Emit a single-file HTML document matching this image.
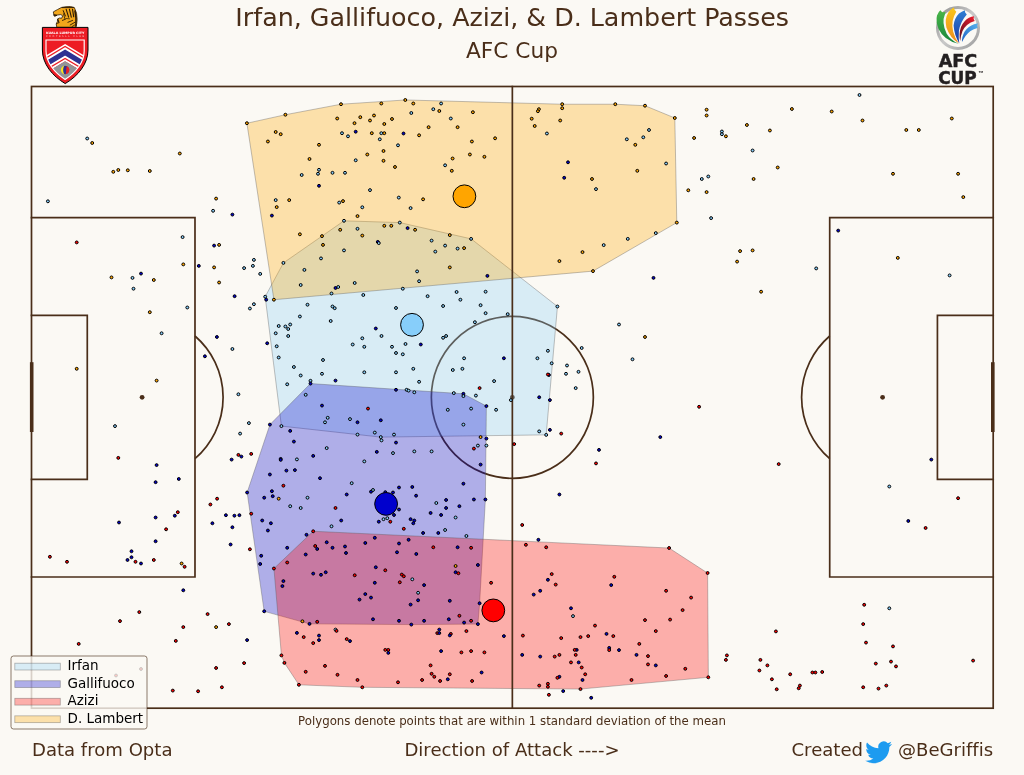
<!DOCTYPE html>
<html lang="en"><head><meta charset="utf-8"><title>Irfan, Gallifuoco, Azizi, &amp; D. Lambert Passes</title>
<style>
html,body{margin:0;padding:0;background:#fbf9f4;}
body{width:1024px;height:775px;overflow:hidden;font-family:"DejaVu Sans","Liberation Sans",sans-serif;}
svg{display:block}
text{font-variant-ligatures:none;font-family:"DejaVu Sans","Liberation Sans",sans-serif;}
.t{fill:#4A2E19}
.d circle{stroke:#000;stroke-width:1}
</style></head><body>
<svg width="1024" height="775" viewBox="0 0 1024 775">
<rect width="1024" height="775" fill="#fbf9f4"/>

<g fill="none" stroke="#4A2E19" stroke-width="1.7">
<circle cx="512.35" cy="397.35" r="81.0"/>
<circle cx="512.35" cy="397.35" r="1.6" fill="#4A2E19"/>
<path d="M194.99 336.00 A81.0 81.0 0 0 1 194.99 458.70"/>
<path d="M829.71 336.00 A81.0 81.0 0 0 0 829.71 458.70"/>
</g>
<g stroke-width="0.8" stroke-linejoin="round">
<polygon points="343.99,220.84 399.79,222.59 471.11,238.85 557.45,306.48 546.18,434.86 380.77,437.11 281.43,426.10 265.16,296.72 283.43,262.88" fill="#87CEFA" fill-opacity="0.3" stroke="#555" stroke-opacity="0.45"/>
<polygon points="310.45,383.55 463.36,393.81 486.38,406.08 485.38,499.48 479.62,603.33 477.87,624.10 411.31,624.60 309.45,623.85 264.16,611.34 247.15,492.47 269.91,424.60" fill="#0000CD" fill-opacity="0.3" stroke="#555" stroke-opacity="0.45"/>
<polygon points="313.21,531.26 669.06,548.02 707.60,573.05 708.35,677.30 580.47,689.06 362.26,687.31 298.94,684.80 284.43,662.89 281.43,655.38 273.92,568.55" fill="#FF0000" fill-opacity="0.3" stroke="#555" stroke-opacity="0.45"/>
<polygon points="246.90,123.24 285.43,114.73 340.98,104.22 405.30,99.96 562.20,104.22 615.25,104.22 645.03,105.72 674.81,117.98 676.81,222.59 592.98,271.14 273.92,299.72" fill="#FFA500" fill-opacity="0.3" stroke="#555" stroke-opacity="0.45"/>
</g>
<g fill="none" stroke="#4A2E19" stroke-width="1.7" stroke-linecap="square">
<rect x="31.5" y="86.5" width="961.70" height="621.70"/>
<line x1="512.35" y1="86.5" x2="512.35" y2="708.2"/>
<path d="M31.5 217.68 H194.99 V577.02 H31.5"/>
<path d="M993.2 217.68 H829.71 V577.02 H993.2"/>
<path d="M31.5 315.29 H87.28 V479.41 H31.5"/>
<path d="M993.2 315.29 H937.42 V479.41 H993.2"/>
</g>
<g stroke="#4A2E19" stroke-width="3.6"><line x1="31.7" y1="362.2" x2="31.7" y2="432"/><line x1="992.8000000000001" y1="362.2" x2="992.8000000000001" y2="432"/></g>
<g fill="#4A2E19"><circle cx="142.10" cy="397.35" r="2.4"/><circle cx="882.60" cy="397.35" r="2.4"/></g>
<g class="d">
<circle cx="87.2" cy="138.5" r="1.45" fill="#87CEFA"/>
<circle cx="92.2" cy="143.0" r="1.45" fill="#FFA500"/>
<circle cx="179.8" cy="153.5" r="1.45" fill="#FFA500"/>
<circle cx="113.3" cy="171.8" r="1.45" fill="#FFA500"/>
<circle cx="118.3" cy="170.0" r="1.45" fill="#FFA500"/>
<circle cx="127.8" cy="170.3" r="1.45" fill="#FFA500"/>
<circle cx="149.8" cy="171.0" r="1.45" fill="#FFA500"/>
<circle cx="47.9" cy="201.3" r="1.45" fill="#87CEFA"/>
<circle cx="246.9" cy="123.2" r="1.45" fill="#FFA500"/>
<circle cx="216.1" cy="198.6" r="1.45" fill="#FFA500"/>
<circle cx="213.1" cy="210.8" r="1.45" fill="#87CEFA"/>
<circle cx="232.4" cy="214.6" r="1.45" fill="#0000CD"/>
<circle cx="76.7" cy="242.4" r="1.45" fill="#FF0000"/>
<circle cx="182.6" cy="237.1" r="1.45" fill="#87CEFA"/>
<circle cx="214.1" cy="245.6" r="1.45" fill="#0000CD"/>
<circle cx="219.1" cy="244.9" r="1.45" fill="#FFA500"/>
<circle cx="183.3" cy="264.4" r="1.45" fill="#FFA500"/>
<circle cx="198.8" cy="265.9" r="1.45" fill="#0000CD"/>
<circle cx="214.1" cy="267.4" r="1.45" fill="#FFA500"/>
<circle cx="244.1" cy="268.1" r="1.45" fill="#87CEFA"/>
<circle cx="252.9" cy="265.9" r="1.45" fill="#87CEFA"/>
<circle cx="253.9" cy="259.9" r="1.45" fill="#87CEFA"/>
<circle cx="141.0" cy="273.6" r="1.45" fill="#0000CD"/>
<circle cx="111.5" cy="277.4" r="1.45" fill="#FFA500"/>
<circle cx="132.5" cy="277.9" r="1.45" fill="#87CEFA"/>
<circle cx="153.8" cy="280.0" r="1.45" fill="#FFA500"/>
<circle cx="133.5" cy="288.7" r="1.45" fill="#87CEFA"/>
<circle cx="219.1" cy="282.5" r="1.45" fill="#FFA500"/>
<circle cx="234.6" cy="296.2" r="1.45" fill="#0000CD"/>
<circle cx="253.9" cy="304.2" r="1.45" fill="#87CEFA"/>
<circle cx="249.9" cy="308.5" r="1.45" fill="#87CEFA"/>
<circle cx="187.3" cy="307.5" r="1.45" fill="#87CEFA"/>
<circle cx="149.8" cy="312.2" r="1.45" fill="#FFA500"/>
<circle cx="161.6" cy="333.3" r="1.45" fill="#87CEFA"/>
<circle cx="216.9" cy="337.0" r="1.45" fill="#0000CD"/>
<circle cx="232.4" cy="349.0" r="1.45" fill="#87CEFA"/>
<circle cx="204.9" cy="356.3" r="1.45" fill="#0000CD"/>
<circle cx="76.7" cy="368.8" r="1.45" fill="#FFA500"/>
<circle cx="156.6" cy="380.6" r="1.45" fill="#FFA500"/>
<circle cx="238.4" cy="394.3" r="1.45" fill="#87CEFA"/>
<circle cx="115.0" cy="426.1" r="1.45" fill="#87CEFA"/>
<circle cx="248.9" cy="423.1" r="1.45" fill="#87CEFA"/>
<circle cx="240.1" cy="433.6" r="1.45" fill="#87CEFA"/>
<circle cx="118.3" cy="457.9" r="1.45" fill="#FF0000"/>
<circle cx="156.6" cy="465.1" r="1.45" fill="#0000CD"/>
<circle cx="238.4" cy="454.9" r="1.45" fill="#FF0000"/>
<circle cx="241.4" cy="456.6" r="1.45" fill="#0000CD"/>
<circle cx="251.2" cy="453.9" r="1.45" fill="#FF0000"/>
<circle cx="231.6" cy="459.6" r="1.45" fill="#0000CD"/>
<circle cx="155.6" cy="482.2" r="1.45" fill="#0000CD"/>
<circle cx="178.8" cy="479.0" r="1.45" fill="#0000CD"/>
<circle cx="247.1" cy="492.5" r="1.45" fill="#0000CD"/>
<circle cx="217.1" cy="498.7" r="1.45" fill="#FF0000"/>
<circle cx="210.4" cy="504.5" r="1.45" fill="#FF0000"/>
<circle cx="177.8" cy="512.2" r="1.45" fill="#FF0000"/>
<circle cx="174.8" cy="515.7" r="1.45" fill="#0000CD"/>
<circle cx="155.6" cy="517.5" r="1.45" fill="#0000CD"/>
<circle cx="119.0" cy="522.5" r="1.45" fill="#0000CD"/>
<circle cx="225.9" cy="515.2" r="1.45" fill="#0000CD"/>
<circle cx="234.4" cy="515.7" r="1.45" fill="#0000CD"/>
<circle cx="239.4" cy="515.2" r="1.45" fill="#0000CD"/>
<circle cx="251.2" cy="513.7" r="1.45" fill="#FF0000"/>
<circle cx="212.4" cy="523.3" r="1.45" fill="#0000CD"/>
<circle cx="232.4" cy="527.3" r="1.45" fill="#0000CD"/>
<circle cx="166.1" cy="529.3" r="1.45" fill="#FF0000"/>
<circle cx="155.6" cy="541.3" r="1.45" fill="#0000CD"/>
<circle cx="230.6" cy="544.5" r="1.45" fill="#0000CD"/>
<circle cx="249.9" cy="549.3" r="1.45" fill="#FF0000"/>
<circle cx="131.5" cy="551.3" r="1.45" fill="#0000CD"/>
<circle cx="131.5" cy="557.3" r="1.45" fill="#0000CD"/>
<circle cx="127.5" cy="560.0" r="1.45" fill="#0000CD"/>
<circle cx="135.5" cy="561.8" r="1.45" fill="#FF0000"/>
<circle cx="141.0" cy="563.5" r="1.45" fill="#0000CD"/>
<circle cx="153.8" cy="560.0" r="1.45" fill="#FF0000"/>
<circle cx="181.6" cy="563.5" r="1.45" fill="#FFA500"/>
<circle cx="184.6" cy="566.8" r="1.45" fill="#FF0000"/>
<circle cx="49.9" cy="556.8" r="1.45" fill="#FF0000"/>
<circle cx="67.0" cy="561.8" r="1.45" fill="#FF0000"/>
<circle cx="183.3" cy="590.3" r="1.45" fill="#0000CD"/>
<circle cx="139.3" cy="612.1" r="1.45" fill="#FF0000"/>
<circle cx="120.0" cy="621.1" r="1.45" fill="#FF0000"/>
<circle cx="207.6" cy="614.1" r="1.45" fill="#FF0000"/>
<circle cx="183.3" cy="627.1" r="1.45" fill="#FF0000"/>
<circle cx="216.1" cy="627.1" r="1.45" fill="#FFA500"/>
<circle cx="228.9" cy="624.1" r="1.45" fill="#FF0000"/>
<circle cx="175.8" cy="640.9" r="1.45" fill="#FF0000"/>
<circle cx="247.1" cy="640.1" r="1.45" fill="#0000CD"/>
<circle cx="78.7" cy="643.9" r="1.45" fill="#FF0000"/>
<circle cx="244.1" cy="663.1" r="1.45" fill="#FF0000"/>
<circle cx="216.1" cy="668.0" r="1.45" fill="#FF0000"/>
<circle cx="172.8" cy="690.6" r="1.45" fill="#FF0000"/>
<circle cx="198.1" cy="691.3" r="1.45" fill="#FF0000"/>
<circle cx="221.9" cy="687.3" r="1.45" fill="#FF0000"/>
<circle cx="141.0" cy="669.0" r="1.45" fill="#FF0000"/>
<circle cx="116.0" cy="675.5" r="1.45" fill="#FF0000"/>
<circle cx="285.4" cy="114.7" r="1.45" fill="#FFA500"/>
<circle cx="341.0" cy="104.2" r="1.45" fill="#FFA500"/>
<circle cx="381.3" cy="103.5" r="1.45" fill="#FFA500"/>
<circle cx="405.3" cy="100.0" r="1.45" fill="#FFA500"/>
<circle cx="413.3" cy="103.5" r="1.45" fill="#FFA500"/>
<circle cx="441.1" cy="103.5" r="1.45" fill="#87CEFA"/>
<circle cx="433.3" cy="109.2" r="1.45" fill="#87CEFA"/>
<circle cx="439.3" cy="111.0" r="1.45" fill="#FFA500"/>
<circle cx="411.3" cy="113.0" r="1.45" fill="#87CEFA"/>
<circle cx="472.9" cy="112.2" r="1.45" fill="#FFA500"/>
<circle cx="337.2" cy="118.5" r="1.45" fill="#FFA500"/>
<circle cx="360.3" cy="117.2" r="1.45" fill="#FFA500"/>
<circle cx="374.0" cy="115.5" r="1.45" fill="#FFA500"/>
<circle cx="370.0" cy="120.5" r="1.45" fill="#FFA500"/>
<circle cx="354.5" cy="123.2" r="1.45" fill="#FFA500"/>
<circle cx="392.0" cy="119.0" r="1.45" fill="#FFA500"/>
<circle cx="384.3" cy="124.0" r="1.45" fill="#FFA500"/>
<circle cx="450.8" cy="118.5" r="1.45" fill="#87CEFA"/>
<circle cx="428.6" cy="127.2" r="1.45" fill="#FFA500"/>
<circle cx="457.6" cy="127.2" r="1.45" fill="#FFA500"/>
<circle cx="275.7" cy="132.0" r="1.45" fill="#FFA500"/>
<circle cx="280.7" cy="134.2" r="1.45" fill="#FFA500"/>
<circle cx="267.9" cy="141.5" r="1.45" fill="#FFA500"/>
<circle cx="342.0" cy="133.2" r="1.45" fill="#87CEFA"/>
<circle cx="348.0" cy="136.3" r="1.45" fill="#87CEFA"/>
<circle cx="355.7" cy="131.7" r="1.45" fill="#0000CD"/>
<circle cx="371.8" cy="133.2" r="1.45" fill="#FFA500"/>
<circle cx="381.3" cy="133.2" r="1.45" fill="#87CEFA"/>
<circle cx="384.3" cy="133.2" r="1.45" fill="#FFA500"/>
<circle cx="403.5" cy="133.5" r="1.45" fill="#0000CD"/>
<circle cx="419.1" cy="135.3" r="1.45" fill="#FFA500"/>
<circle cx="379.8" cy="139.3" r="1.45" fill="#87CEFA"/>
<circle cx="495.1" cy="138.3" r="1.45" fill="#FFA500"/>
<circle cx="471.9" cy="141.5" r="1.45" fill="#FFA500"/>
<circle cx="319.0" cy="144.8" r="1.45" fill="#FFA500"/>
<circle cx="398.0" cy="145.3" r="1.45" fill="#87CEFA"/>
<circle cx="383.5" cy="151.0" r="1.45" fill="#FFA500"/>
<circle cx="367.3" cy="154.5" r="1.45" fill="#FFA500"/>
<circle cx="469.9" cy="154.5" r="1.45" fill="#FFA500"/>
<circle cx="484.4" cy="156.8" r="1.45" fill="#FFA500"/>
<circle cx="452.6" cy="158.5" r="1.45" fill="#FFA500"/>
<circle cx="309.5" cy="159.0" r="1.45" fill="#FFA500"/>
<circle cx="355.7" cy="160.3" r="1.45" fill="#87CEFA"/>
<circle cx="383.5" cy="160.8" r="1.45" fill="#FFA500"/>
<circle cx="395.0" cy="167.0" r="1.45" fill="#FFA500"/>
<circle cx="445.1" cy="165.3" r="1.45" fill="#87CEFA"/>
<circle cx="451.8" cy="170.8" r="1.45" fill="#FFA500"/>
<circle cx="319.0" cy="169.8" r="1.45" fill="#87CEFA"/>
<circle cx="318.0" cy="173.8" r="1.45" fill="#87CEFA"/>
<circle cx="301.7" cy="175.0" r="1.45" fill="#87CEFA"/>
<circle cx="332.5" cy="172.8" r="1.45" fill="#87CEFA"/>
<circle cx="345.0" cy="172.8" r="1.45" fill="#87CEFA"/>
<circle cx="319.0" cy="185.8" r="1.45" fill="#0000CD"/>
<circle cx="370.0" cy="190.1" r="1.45" fill="#87CEFA"/>
<circle cx="398.8" cy="197.6" r="1.45" fill="#87CEFA"/>
<circle cx="423.1" cy="199.3" r="1.45" fill="#FFA500"/>
<circle cx="275.7" cy="200.1" r="1.45" fill="#87CEFA"/>
<circle cx="289.2" cy="200.1" r="1.45" fill="#FFA500"/>
<circle cx="276.7" cy="207.1" r="1.45" fill="#FFA500"/>
<circle cx="339.2" cy="202.6" r="1.45" fill="#87CEFA"/>
<circle cx="343.0" cy="201.1" r="1.45" fill="#FFA500"/>
<circle cx="362.3" cy="207.3" r="1.45" fill="#87CEFA"/>
<circle cx="410.6" cy="208.1" r="1.45" fill="#87CEFA"/>
<circle cx="271.9" cy="215.6" r="1.45" fill="#0000CD"/>
<circle cx="357.5" cy="216.1" r="1.45" fill="#FFA500"/>
<circle cx="344.0" cy="220.8" r="1.45" fill="#87CEFA"/>
<circle cx="399.8" cy="222.6" r="1.45" fill="#87CEFA"/>
<circle cx="384.3" cy="225.8" r="1.45" fill="#FFA500"/>
<circle cx="391.3" cy="225.8" r="1.45" fill="#FFA500"/>
<circle cx="407.6" cy="228.1" r="1.45" fill="#0000CD"/>
<circle cx="415.1" cy="229.8" r="1.45" fill="#FFA500"/>
<circle cx="340.2" cy="229.8" r="1.45" fill="#FFA500"/>
<circle cx="357.5" cy="228.8" r="1.45" fill="#87CEFA"/>
<circle cx="362.3" cy="235.6" r="1.45" fill="#FFA500"/>
<circle cx="299.9" cy="234.3" r="1.45" fill="#FFA500"/>
<circle cx="322.0" cy="236.1" r="1.45" fill="#FFA500"/>
<circle cx="449.8" cy="235.1" r="1.45" fill="#FFA500"/>
<circle cx="471.1" cy="238.9" r="1.45" fill="#87CEFA"/>
<circle cx="377.8" cy="241.9" r="1.45" fill="#0000CD"/>
<circle cx="378.8" cy="243.1" r="1.45" fill="#87CEFA"/>
<circle cx="431.6" cy="240.6" r="1.45" fill="#87CEFA"/>
<circle cx="323.0" cy="244.9" r="1.45" fill="#FFA500"/>
<circle cx="445.1" cy="245.6" r="1.45" fill="#87CEFA"/>
<circle cx="457.6" cy="248.6" r="1.45" fill="#87CEFA"/>
<circle cx="464.1" cy="248.1" r="1.45" fill="#FFA500"/>
<circle cx="344.0" cy="250.4" r="1.45" fill="#87CEFA"/>
<circle cx="435.3" cy="251.6" r="1.45" fill="#87CEFA"/>
<circle cx="321.0" cy="258.4" r="1.45" fill="#87CEFA"/>
<circle cx="283.4" cy="262.9" r="1.45" fill="#87CEFA"/>
<circle cx="304.4" cy="269.9" r="1.45" fill="#87CEFA"/>
<circle cx="449.8" cy="267.4" r="1.45" fill="#FFA500"/>
<circle cx="417.1" cy="271.4" r="1.45" fill="#87CEFA"/>
<circle cx="260.2" cy="273.9" r="1.45" fill="#87CEFA"/>
<circle cx="487.4" cy="275.9" r="1.45" fill="#0000CD"/>
<circle cx="300.7" cy="285.0" r="1.45" fill="#87CEFA"/>
<circle cx="335.5" cy="288.0" r="1.45" fill="#0000CD"/>
<circle cx="338.2" cy="287.0" r="1.45" fill="#87CEFA"/>
<circle cx="354.7" cy="283.0" r="1.45" fill="#87CEFA"/>
<circle cx="419.1" cy="281.2" r="1.45" fill="#87CEFA"/>
<circle cx="402.8" cy="288.7" r="1.45" fill="#87CEFA"/>
<circle cx="331.5" cy="293.5" r="1.45" fill="#87CEFA"/>
<circle cx="363.3" cy="295.0" r="1.45" fill="#87CEFA"/>
<circle cx="265.2" cy="296.7" r="1.45" fill="#87CEFA"/>
<circle cx="266.2" cy="299.7" r="1.45" fill="#0000CD"/>
<circle cx="273.9" cy="299.7" r="1.45" fill="#FFA500"/>
<circle cx="427.6" cy="296.2" r="1.45" fill="#87CEFA"/>
<circle cx="456.6" cy="292.0" r="1.45" fill="#87CEFA"/>
<circle cx="485.6" cy="291.7" r="1.45" fill="#87CEFA"/>
<circle cx="460.4" cy="299.7" r="1.45" fill="#87CEFA"/>
<circle cx="307.5" cy="304.7" r="1.45" fill="#87CEFA"/>
<circle cx="332.5" cy="306.5" r="1.45" fill="#87CEFA"/>
<circle cx="334.7" cy="308.2" r="1.45" fill="#87CEFA"/>
<circle cx="396.0" cy="308.0" r="1.45" fill="#87CEFA"/>
<circle cx="443.1" cy="306.0" r="1.45" fill="#87CEFA"/>
<circle cx="480.6" cy="305.2" r="1.45" fill="#87CEFA"/>
<circle cx="485.6" cy="313.2" r="1.45" fill="#87CEFA"/>
<circle cx="507.7" cy="314.2" r="1.45" fill="#87CEFA"/>
<circle cx="299.9" cy="316.5" r="1.45" fill="#87CEFA"/>
<circle cx="330.7" cy="321.0" r="1.45" fill="#87CEFA"/>
<circle cx="474.9" cy="322.2" r="1.45" fill="#87CEFA"/>
<circle cx="278.7" cy="326.0" r="1.45" fill="#87CEFA"/>
<circle cx="285.4" cy="326.5" r="1.45" fill="#87CEFA"/>
<circle cx="290.2" cy="324.5" r="1.45" fill="#87CEFA"/>
<circle cx="288.2" cy="329.0" r="1.45" fill="#87CEFA"/>
<circle cx="275.7" cy="333.3" r="1.45" fill="#87CEFA"/>
<circle cx="288.2" cy="336.0" r="1.45" fill="#87CEFA"/>
<circle cx="375.8" cy="328.5" r="1.45" fill="#0000CD"/>
<circle cx="381.5" cy="336.0" r="1.45" fill="#87CEFA"/>
<circle cx="362.3" cy="338.3" r="1.45" fill="#87CEFA"/>
<circle cx="443.1" cy="337.8" r="1.45" fill="#87CEFA"/>
<circle cx="446.1" cy="336.0" r="1.45" fill="#87CEFA"/>
<circle cx="267.2" cy="343.3" r="1.45" fill="#0000CD"/>
<circle cx="276.7" cy="346.3" r="1.45" fill="#87CEFA"/>
<circle cx="352.7" cy="344.5" r="1.45" fill="#87CEFA"/>
<circle cx="364.3" cy="346.8" r="1.45" fill="#87CEFA"/>
<circle cx="392.0" cy="346.8" r="1.45" fill="#87CEFA"/>
<circle cx="405.5" cy="344.0" r="1.45" fill="#87CEFA"/>
<circle cx="420.8" cy="344.5" r="1.45" fill="#0000CD"/>
<circle cx="396.0" cy="353.0" r="1.45" fill="#87CEFA"/>
<circle cx="402.8" cy="354.3" r="1.45" fill="#87CEFA"/>
<circle cx="278.7" cy="357.5" r="1.45" fill="#87CEFA"/>
<circle cx="323.0" cy="360.0" r="1.45" fill="#87CEFA"/>
<circle cx="464.1" cy="358.3" r="1.45" fill="#87CEFA"/>
<circle cx="503.9" cy="358.3" r="1.45" fill="#0000CD"/>
<circle cx="293.9" cy="367.0" r="1.45" fill="#87CEFA"/>
<circle cx="413.3" cy="368.8" r="1.45" fill="#87CEFA"/>
<circle cx="452.8" cy="370.0" r="1.45" fill="#87CEFA"/>
<circle cx="462.4" cy="368.8" r="1.45" fill="#87CEFA"/>
<circle cx="300.7" cy="375.5" r="1.45" fill="#87CEFA"/>
<circle cx="322.0" cy="373.8" r="1.45" fill="#87CEFA"/>
<circle cx="364.3" cy="372.3" r="1.45" fill="#87CEFA"/>
<circle cx="396.0" cy="372.3" r="1.45" fill="#87CEFA"/>
<circle cx="287.2" cy="384.3" r="1.45" fill="#87CEFA"/>
<circle cx="310.5" cy="380.8" r="1.45" fill="#87CEFA"/>
<circle cx="310.5" cy="383.6" r="1.45" fill="#0000CD"/>
<circle cx="335.5" cy="380.6" r="1.45" fill="#0000CD"/>
<circle cx="419.1" cy="381.8" r="1.45" fill="#87CEFA"/>
<circle cx="494.1" cy="381.1" r="1.45" fill="#87CEFA"/>
<circle cx="479.6" cy="388.1" r="1.45" fill="#FF0000"/>
<circle cx="396.0" cy="389.8" r="1.45" fill="#0000CD"/>
<circle cx="406.6" cy="389.8" r="1.45" fill="#87CEFA"/>
<circle cx="408.6" cy="390.6" r="1.45" fill="#87CEFA"/>
<circle cx="414.3" cy="392.3" r="1.45" fill="#87CEFA"/>
<circle cx="453.8" cy="393.1" r="1.45" fill="#87CEFA"/>
<circle cx="463.4" cy="393.8" r="1.45" fill="#0000CD"/>
<circle cx="463.4" cy="396.1" r="1.45" fill="#87CEFA"/>
<circle cx="475.9" cy="395.6" r="1.45" fill="#87CEFA"/>
<circle cx="305.7" cy="394.8" r="1.45" fill="#87CEFA"/>
<circle cx="510.9" cy="400.1" r="1.45" fill="#87CEFA"/>
<circle cx="322.0" cy="405.6" r="1.45" fill="#0000CD"/>
<circle cx="368.0" cy="408.6" r="1.45" fill="#FF0000"/>
<circle cx="447.8" cy="409.8" r="1.45" fill="#87CEFA"/>
<circle cx="471.1" cy="408.6" r="1.45" fill="#87CEFA"/>
<circle cx="486.4" cy="406.1" r="1.45" fill="#0000CD"/>
<circle cx="496.1" cy="409.8" r="1.45" fill="#87CEFA"/>
<circle cx="327.7" cy="417.8" r="1.45" fill="#87CEFA"/>
<circle cx="325.0" cy="422.3" r="1.45" fill="#87CEFA"/>
<circle cx="350.0" cy="419.1" r="1.45" fill="#87CEFA"/>
<circle cx="357.5" cy="422.3" r="1.45" fill="#0000CD"/>
<circle cx="380.8" cy="420.3" r="1.45" fill="#0000CD"/>
<circle cx="463.4" cy="424.6" r="1.45" fill="#87CEFA"/>
<circle cx="269.9" cy="424.6" r="1.45" fill="#0000CD"/>
<circle cx="281.4" cy="426.1" r="1.45" fill="#87CEFA"/>
<circle cx="290.2" cy="430.9" r="1.45" fill="#0000CD"/>
<circle cx="357.5" cy="434.6" r="1.45" fill="#87CEFA"/>
<circle cx="374.8" cy="432.6" r="1.45" fill="#87CEFA"/>
<circle cx="394.0" cy="434.6" r="1.45" fill="#87CEFA"/>
<circle cx="380.8" cy="437.1" r="1.45" fill="#87CEFA"/>
<circle cx="381.5" cy="440.4" r="1.45" fill="#87CEFA"/>
<circle cx="480.6" cy="437.1" r="1.45" fill="#FFA500"/>
<circle cx="486.4" cy="438.6" r="1.45" fill="#0000CD"/>
<circle cx="293.9" cy="441.6" r="1.45" fill="#0000CD"/>
<circle cx="396.0" cy="442.6" r="1.45" fill="#0000CD"/>
<circle cx="486.4" cy="445.6" r="1.45" fill="#87CEFA"/>
<circle cx="477.9" cy="445.6" r="1.45" fill="#87CEFA"/>
<circle cx="473.9" cy="448.6" r="1.45" fill="#FF0000"/>
<circle cx="326.7" cy="448.1" r="1.45" fill="#87CEFA"/>
<circle cx="376.8" cy="451.9" r="1.45" fill="#0000CD"/>
<circle cx="393.0" cy="453.1" r="1.45" fill="#87CEFA"/>
<circle cx="414.3" cy="451.4" r="1.45" fill="#87CEFA"/>
<circle cx="431.6" cy="451.4" r="1.45" fill="#87CEFA"/>
<circle cx="313.2" cy="455.9" r="1.45" fill="#0000CD"/>
<circle cx="280.7" cy="458.9" r="1.45" fill="#0000CD"/>
<circle cx="280.7" cy="459.9" r="1.45" fill="#0000CD"/>
<circle cx="296.9" cy="459.4" r="1.45" fill="#87CEFA"/>
<circle cx="364.3" cy="461.4" r="1.45" fill="#87CEFA"/>
<circle cx="480.6" cy="464.6" r="1.45" fill="#0000CD"/>
<circle cx="286.4" cy="470.6" r="1.45" fill="#0000CD"/>
<circle cx="294.9" cy="470.1" r="1.45" fill="#0000CD"/>
<circle cx="269.9" cy="474.5" r="1.45" fill="#0000CD"/>
<circle cx="320.0" cy="478.2" r="1.45" fill="#0000CD"/>
<circle cx="283.4" cy="485.7" r="1.45" fill="#FF0000"/>
<circle cx="351.7" cy="483.2" r="1.45" fill="#87CEFA"/>
<circle cx="463.4" cy="483.7" r="1.45" fill="#0000CD"/>
<circle cx="271.9" cy="491.2" r="1.45" fill="#0000CD"/>
<circle cx="272.7" cy="496.2" r="1.45" fill="#0000CD"/>
<circle cx="264.2" cy="497.7" r="1.45" fill="#0000CD"/>
<circle cx="278.7" cy="498.7" r="1.45" fill="#FFA500"/>
<circle cx="307.5" cy="497.7" r="1.45" fill="#87CEFA"/>
<circle cx="346.7" cy="494.5" r="1.45" fill="#0000CD"/>
<circle cx="371.0" cy="491.7" r="1.45" fill="#0000CD"/>
<circle cx="373.0" cy="490.0" r="1.45" fill="#87CEFA"/>
<circle cx="385.3" cy="492.2" r="1.45" fill="#0000CD"/>
<circle cx="393.0" cy="492.5" r="1.45" fill="#0000CD"/>
<circle cx="399.0" cy="487.5" r="1.45" fill="#0000CD"/>
<circle cx="412.3" cy="487.0" r="1.45" fill="#0000CD"/>
<circle cx="416.1" cy="495.7" r="1.45" fill="#0000CD"/>
<circle cx="446.1" cy="500.0" r="1.45" fill="#0000CD"/>
<circle cx="473.9" cy="499.5" r="1.45" fill="#0000CD"/>
<circle cx="485.4" cy="499.5" r="1.45" fill="#0000CD"/>
<circle cx="436.3" cy="503.0" r="1.45" fill="#87CEFA"/>
<circle cx="290.2" cy="506.2" r="1.45" fill="#87CEFA"/>
<circle cx="300.7" cy="508.0" r="1.45" fill="#87CEFA"/>
<circle cx="335.5" cy="508.0" r="1.45" fill="#FF0000"/>
<circle cx="446.1" cy="508.0" r="1.45" fill="#0000CD"/>
<circle cx="459.4" cy="506.2" r="1.45" fill="#0000CD"/>
<circle cx="399.0" cy="509.5" r="1.45" fill="#0000CD"/>
<circle cx="430.6" cy="513.0" r="1.45" fill="#0000CD"/>
<circle cx="441.1" cy="515.0" r="1.45" fill="#0000CD"/>
<circle cx="394.0" cy="515.0" r="1.45" fill="#0000CD"/>
<circle cx="455.6" cy="517.5" r="1.45" fill="#87CEFA"/>
<circle cx="262.2" cy="520.5" r="1.45" fill="#0000CD"/>
<circle cx="270.9" cy="523.3" r="1.45" fill="#0000CD"/>
<circle cx="341.2" cy="520.5" r="1.45" fill="#0000CD"/>
<circle cx="378.8" cy="521.7" r="1.45" fill="#0000CD"/>
<circle cx="383.5" cy="519.2" r="1.45" fill="#87CEFA"/>
<circle cx="387.3" cy="518.2" r="1.45" fill="#87CEFA"/>
<circle cx="390.3" cy="521.7" r="1.45" fill="#FF0000"/>
<circle cx="410.6" cy="519.2" r="1.45" fill="#0000CD"/>
<circle cx="414.3" cy="520.5" r="1.45" fill="#0000CD"/>
<circle cx="413.3" cy="523.3" r="1.45" fill="#0000CD"/>
<circle cx="267.9" cy="530.5" r="1.45" fill="#0000CD"/>
<circle cx="331.5" cy="526.3" r="1.45" fill="#87CEFA"/>
<circle cx="403.8" cy="528.8" r="1.45" fill="#FF0000"/>
<circle cx="445.1" cy="530.0" r="1.45" fill="#87CEFA"/>
<circle cx="423.1" cy="533.0" r="1.45" fill="#0000CD"/>
<circle cx="438.3" cy="533.0" r="1.45" fill="#0000CD"/>
<circle cx="313.2" cy="531.3" r="1.45" fill="#FF0000"/>
<circle cx="306.5" cy="534.8" r="1.45" fill="#0000CD"/>
<circle cx="466.4" cy="536.0" r="1.45" fill="#87CEFA"/>
<circle cx="374.8" cy="537.8" r="1.45" fill="#0000CD"/>
<circle cx="408.6" cy="539.8" r="1.45" fill="#0000CD"/>
<circle cx="326.7" cy="542.3" r="1.45" fill="#0000CD"/>
<circle cx="365.3" cy="543.0" r="1.45" fill="#0000CD"/>
<circle cx="399.0" cy="543.5" r="1.45" fill="#0000CD"/>
<circle cx="287.2" cy="547.8" r="1.45" fill="#0000CD"/>
<circle cx="315.2" cy="546.0" r="1.45" fill="#FF0000"/>
<circle cx="317.2" cy="549.0" r="1.45" fill="#0000CD"/>
<circle cx="332.5" cy="547.8" r="1.45" fill="#0000CD"/>
<circle cx="345.0" cy="546.5" r="1.45" fill="#0000CD"/>
<circle cx="433.3" cy="547.3" r="1.45" fill="#FF0000"/>
<circle cx="457.6" cy="547.3" r="1.45" fill="#0000CD"/>
<circle cx="471.1" cy="547.8" r="1.45" fill="#FF0000"/>
<circle cx="346.0" cy="553.0" r="1.45" fill="#0000CD"/>
<circle cx="397.0" cy="552.3" r="1.45" fill="#0000CD"/>
<circle cx="416.3" cy="554.0" r="1.45" fill="#0000CD"/>
<circle cx="261.2" cy="555.8" r="1.45" fill="#0000CD"/>
<circle cx="305.7" cy="554.5" r="1.45" fill="#0000CD"/>
<circle cx="260.2" cy="564.0" r="1.45" fill="#0000CD"/>
<circle cx="287.2" cy="562.5" r="1.45" fill="#FF0000"/>
<circle cx="273.9" cy="568.5" r="1.45" fill="#FF0000"/>
<circle cx="477.9" cy="565.0" r="1.45" fill="#0000CD"/>
<circle cx="455.6" cy="566.0" r="1.45" fill="#FFA500"/>
<circle cx="375.8" cy="567.3" r="1.45" fill="#0000CD"/>
<circle cx="385.3" cy="570.3" r="1.45" fill="#FF0000"/>
<circle cx="313.2" cy="573.6" r="1.45" fill="#0000CD"/>
<circle cx="321.0" cy="574.8" r="1.45" fill="#0000CD"/>
<circle cx="325.7" cy="572.3" r="1.45" fill="#0000CD"/>
<circle cx="354.7" cy="575.3" r="1.45" fill="#FF0000"/>
<circle cx="401.8" cy="574.6" r="1.45" fill="#FF0000"/>
<circle cx="403.8" cy="576.3" r="1.45" fill="#FF0000"/>
<circle cx="455.6" cy="572.3" r="1.45" fill="#0000CD"/>
<circle cx="458.4" cy="573.3" r="1.45" fill="#FF0000"/>
<circle cx="283.4" cy="581.1" r="1.45" fill="#0000CD"/>
<circle cx="282.4" cy="586.1" r="1.45" fill="#0000CD"/>
<circle cx="374.8" cy="582.8" r="1.45" fill="#0000CD"/>
<circle cx="399.8" cy="582.3" r="1.45" fill="#FF0000"/>
<circle cx="412.3" cy="579.3" r="1.45" fill="#87CEFA"/>
<circle cx="424.1" cy="585.1" r="1.45" fill="#0000CD"/>
<circle cx="491.1" cy="582.8" r="1.45" fill="#FF0000"/>
<circle cx="418.1" cy="592.8" r="1.45" fill="#87CEFA"/>
<circle cx="365.3" cy="594.1" r="1.45" fill="#0000CD"/>
<circle cx="371.0" cy="597.6" r="1.45" fill="#0000CD"/>
<circle cx="359.5" cy="599.6" r="1.45" fill="#0000CD"/>
<circle cx="418.1" cy="600.3" r="1.45" fill="#0000CD"/>
<circle cx="410.6" cy="604.6" r="1.45" fill="#0000CD"/>
<circle cx="449.8" cy="600.8" r="1.45" fill="#0000CD"/>
<circle cx="479.6" cy="603.3" r="1.45" fill="#0000CD"/>
<circle cx="264.2" cy="611.3" r="1.45" fill="#0000CD"/>
<circle cx="373.0" cy="619.3" r="1.45" fill="#0000CD"/>
<circle cx="399.0" cy="620.8" r="1.45" fill="#0000CD"/>
<circle cx="424.1" cy="620.8" r="1.45" fill="#0000CD"/>
<circle cx="411.3" cy="624.6" r="1.45" fill="#0000CD"/>
<circle cx="448.8" cy="619.3" r="1.45" fill="#0000CD"/>
<circle cx="459.4" cy="615.8" r="1.45" fill="#FF0000"/>
<circle cx="464.1" cy="622.6" r="1.45" fill="#0000CD"/>
<circle cx="471.1" cy="620.8" r="1.45" fill="#FF0000"/>
<circle cx="477.9" cy="624.1" r="1.45" fill="#0000CD"/>
<circle cx="302.4" cy="621.3" r="1.45" fill="#FFA500"/>
<circle cx="309.5" cy="623.9" r="1.45" fill="#0000CD"/>
<circle cx="317.2" cy="621.8" r="1.45" fill="#FF0000"/>
<circle cx="335.5" cy="629.6" r="1.45" fill="#87CEFA"/>
<circle cx="336.5" cy="630.9" r="1.45" fill="#FF0000"/>
<circle cx="296.9" cy="632.9" r="1.45" fill="#0000CD"/>
<circle cx="303.7" cy="637.1" r="1.45" fill="#FF0000"/>
<circle cx="319.0" cy="635.6" r="1.45" fill="#0000CD"/>
<circle cx="319.0" cy="640.1" r="1.45" fill="#0000CD"/>
<circle cx="313.2" cy="643.1" r="1.45" fill="#FF0000"/>
<circle cx="346.7" cy="639.1" r="1.45" fill="#FF0000"/>
<circle cx="350.0" cy="641.1" r="1.45" fill="#0000CD"/>
<circle cx="439.3" cy="629.6" r="1.45" fill="#0000CD"/>
<circle cx="437.3" cy="633.1" r="1.45" fill="#FF0000"/>
<circle cx="439.3" cy="633.1" r="1.45" fill="#0000CD"/>
<circle cx="450.8" cy="633.9" r="1.45" fill="#FF0000"/>
<circle cx="449.8" cy="635.4" r="1.45" fill="#0000CD"/>
<circle cx="466.4" cy="631.1" r="1.45" fill="#FF0000"/>
<circle cx="503.9" cy="636.1" r="1.45" fill="#0000CD"/>
<circle cx="385.3" cy="649.9" r="1.45" fill="#FF0000"/>
<circle cx="388.3" cy="649.9" r="1.45" fill="#FF0000"/>
<circle cx="388.3" cy="652.9" r="1.45" fill="#0000CD"/>
<circle cx="441.1" cy="651.1" r="1.45" fill="#0000CD"/>
<circle cx="461.4" cy="652.4" r="1.45" fill="#FF0000"/>
<circle cx="471.1" cy="651.1" r="1.45" fill="#FF0000"/>
<circle cx="484.4" cy="652.4" r="1.45" fill="#FF0000"/>
<circle cx="281.4" cy="655.4" r="1.45" fill="#FF0000"/>
<circle cx="284.4" cy="662.9" r="1.45" fill="#FF0000"/>
<circle cx="325.0" cy="665.9" r="1.45" fill="#FF0000"/>
<circle cx="430.6" cy="665.4" r="1.45" fill="#FF0000"/>
<circle cx="305.7" cy="671.8" r="1.45" fill="#FF0000"/>
<circle cx="337.5" cy="674.8" r="1.45" fill="#FF0000"/>
<circle cx="357.5" cy="680.0" r="1.45" fill="#FF0000"/>
<circle cx="298.9" cy="684.8" r="1.45" fill="#FF0000"/>
<circle cx="362.3" cy="687.3" r="1.45" fill="#FF0000"/>
<circle cx="398.0" cy="682.3" r="1.45" fill="#FF0000"/>
<circle cx="422.1" cy="680.0" r="1.45" fill="#FF0000"/>
<circle cx="431.6" cy="673.8" r="1.45" fill="#FF0000"/>
<circle cx="434.3" cy="676.8" r="1.45" fill="#FF0000"/>
<circle cx="440.1" cy="681.0" r="1.45" fill="#FF0000"/>
<circle cx="447.8" cy="679.3" r="1.45" fill="#0000CD"/>
<circle cx="449.8" cy="674.3" r="1.45" fill="#FF0000"/>
<circle cx="472.1" cy="681.0" r="1.45" fill="#FF0000"/>
<circle cx="481.6" cy="672.5" r="1.45" fill="#0000CD"/>
<circle cx="562.2" cy="104.2" r="1.45" fill="#FFA500"/>
<circle cx="562.2" cy="108.2" r="1.45" fill="#FFA500"/>
<circle cx="538.9" cy="109.2" r="1.45" fill="#FFA500"/>
<circle cx="537.9" cy="111.2" r="1.45" fill="#FFA500"/>
<circle cx="531.7" cy="118.7" r="1.45" fill="#FFA500"/>
<circle cx="534.7" cy="126.0" r="1.45" fill="#FFA500"/>
<circle cx="560.2" cy="120.5" r="1.45" fill="#FFA500"/>
<circle cx="546.9" cy="133.5" r="1.45" fill="#87CEFA"/>
<circle cx="615.3" cy="104.2" r="1.45" fill="#FFA500"/>
<circle cx="645.0" cy="105.7" r="1.45" fill="#FFA500"/>
<circle cx="674.8" cy="118.0" r="1.45" fill="#FFA500"/>
<circle cx="649.0" cy="130.0" r="1.45" fill="#87CEFA"/>
<circle cx="643.3" cy="137.3" r="1.45" fill="#87CEFA"/>
<circle cx="626.8" cy="139.3" r="1.45" fill="#87CEFA"/>
<circle cx="635.3" cy="144.8" r="1.45" fill="#FFA500"/>
<circle cx="706.6" cy="109.7" r="1.45" fill="#FFA500"/>
<circle cx="706.6" cy="115.5" r="1.45" fill="#FFA500"/>
<circle cx="746.9" cy="125.0" r="1.45" fill="#FFA500"/>
<circle cx="694.1" cy="138.0" r="1.45" fill="#FFA500"/>
<circle cx="721.9" cy="131.5" r="1.45" fill="#87CEFA"/>
<circle cx="721.9" cy="134.2" r="1.45" fill="#87CEFA"/>
<circle cx="725.9" cy="136.3" r="1.45" fill="#FFA500"/>
<circle cx="752.6" cy="150.5" r="1.45" fill="#87CEFA"/>
<circle cx="568.0" cy="162.3" r="1.45" fill="#0000CD"/>
<circle cx="666.1" cy="163.5" r="1.45" fill="#87CEFA"/>
<circle cx="637.3" cy="170.8" r="1.45" fill="#FFA500"/>
<circle cx="564.2" cy="177.8" r="1.45" fill="#0000CD"/>
<circle cx="592.0" cy="179.0" r="1.45" fill="#FFA500"/>
<circle cx="596.0" cy="189.1" r="1.45" fill="#87CEFA"/>
<circle cx="701.8" cy="179.0" r="1.45" fill="#87CEFA"/>
<circle cx="708.3" cy="176.5" r="1.45" fill="#87CEFA"/>
<circle cx="753.6" cy="179.0" r="1.45" fill="#FFA500"/>
<circle cx="688.3" cy="190.3" r="1.45" fill="#FFA500"/>
<circle cx="706.6" cy="192.1" r="1.45" fill="#FFA500"/>
<circle cx="711.1" cy="218.1" r="1.45" fill="#87CEFA"/>
<circle cx="676.8" cy="222.6" r="1.45" fill="#FFA500"/>
<circle cx="655.8" cy="233.1" r="1.45" fill="#87CEFA"/>
<circle cx="627.8" cy="238.9" r="1.45" fill="#87CEFA"/>
<circle cx="603.7" cy="245.1" r="1.45" fill="#87CEFA"/>
<circle cx="582.5" cy="252.1" r="1.45" fill="#FFA500"/>
<circle cx="559.4" cy="261.1" r="1.45" fill="#FFA500"/>
<circle cx="593.0" cy="271.1" r="1.45" fill="#FFA500"/>
<circle cx="740.1" cy="251.1" r="1.45" fill="#FFA500"/>
<circle cx="752.6" cy="250.4" r="1.45" fill="#FFA500"/>
<circle cx="737.1" cy="261.6" r="1.45" fill="#FFA500"/>
<circle cx="653.5" cy="277.9" r="1.45" fill="#0000CD"/>
<circle cx="761.1" cy="291.7" r="1.45" fill="#FFA500"/>
<circle cx="557.4" cy="306.5" r="1.45" fill="#87CEFA"/>
<circle cx="619.0" cy="324.5" r="1.45" fill="#87CEFA"/>
<circle cx="645.0" cy="337.0" r="1.45" fill="#FFA500"/>
<circle cx="581.7" cy="348.0" r="1.45" fill="#87CEFA"/>
<circle cx="547.9" cy="350.8" r="1.45" fill="#87CEFA"/>
<circle cx="537.4" cy="358.3" r="1.45" fill="#87CEFA"/>
<circle cx="551.7" cy="363.3" r="1.45" fill="#87CEFA"/>
<circle cx="567.0" cy="365.5" r="1.45" fill="#87CEFA"/>
<circle cx="632.5" cy="359.3" r="1.45" fill="#87CEFA"/>
<circle cx="566.0" cy="373.8" r="1.45" fill="#87CEFA"/>
<circle cx="578.5" cy="371.8" r="1.45" fill="#87CEFA"/>
<circle cx="548.9" cy="375.0" r="1.45" fill="#0000CD"/>
<circle cx="547.9" cy="374.5" r="1.45" fill="#FF0000"/>
<circle cx="575.7" cy="388.1" r="1.45" fill="#87CEFA"/>
<circle cx="539.2" cy="397.3" r="1.45" fill="#0000CD"/>
<circle cx="549.9" cy="400.1" r="1.45" fill="#0000CD"/>
<circle cx="699.1" cy="406.8" r="1.45" fill="#FF0000"/>
<circle cx="539.2" cy="431.4" r="1.45" fill="#87CEFA"/>
<circle cx="546.2" cy="434.9" r="1.45" fill="#87CEFA"/>
<circle cx="549.9" cy="429.9" r="1.45" fill="#0000CD"/>
<circle cx="561.2" cy="433.6" r="1.45" fill="#FF0000"/>
<circle cx="660.3" cy="437.1" r="1.45" fill="#0000CD"/>
<circle cx="514.2" cy="444.1" r="1.45" fill="#FF0000"/>
<circle cx="599.0" cy="449.9" r="1.45" fill="#0000CD"/>
<circle cx="596.0" cy="463.4" r="1.45" fill="#FF0000"/>
<circle cx="559.4" cy="494.5" r="1.45" fill="#0000CD"/>
<circle cx="522.2" cy="525.0" r="1.45" fill="#FF0000"/>
<circle cx="538.4" cy="539.8" r="1.45" fill="#0000CD"/>
<circle cx="525.9" cy="544.8" r="1.45" fill="#FF0000"/>
<circle cx="546.2" cy="547.3" r="1.45" fill="#FF0000"/>
<circle cx="669.1" cy="548.0" r="1.45" fill="#FF0000"/>
<circle cx="707.6" cy="573.0" r="1.45" fill="#FF0000"/>
<circle cx="551.7" cy="574.1" r="1.45" fill="#FF0000"/>
<circle cx="547.9" cy="579.8" r="1.45" fill="#0000CD"/>
<circle cx="555.7" cy="584.6" r="1.45" fill="#FF0000"/>
<circle cx="614.3" cy="576.8" r="1.45" fill="#FF0000"/>
<circle cx="611.2" cy="585.1" r="1.45" fill="#0000CD"/>
<circle cx="540.2" cy="590.8" r="1.45" fill="#0000CD"/>
<circle cx="533.7" cy="594.6" r="1.45" fill="#0000CD"/>
<circle cx="666.1" cy="590.8" r="1.45" fill="#FF0000"/>
<circle cx="691.1" cy="597.6" r="1.45" fill="#FF0000"/>
<circle cx="682.6" cy="610.1" r="1.45" fill="#FF0000"/>
<circle cx="571.0" cy="608.3" r="1.45" fill="#0000CD"/>
<circle cx="573.0" cy="616.1" r="1.45" fill="#87CEFA"/>
<circle cx="645.0" cy="620.1" r="1.45" fill="#FF0000"/>
<circle cx="670.1" cy="619.6" r="1.45" fill="#FF0000"/>
<circle cx="595.0" cy="625.6" r="1.45" fill="#FF0000"/>
<circle cx="655.8" cy="631.1" r="1.45" fill="#FF0000"/>
<circle cx="522.9" cy="635.6" r="1.45" fill="#FF0000"/>
<circle cx="561.2" cy="638.1" r="1.45" fill="#FF0000"/>
<circle cx="580.5" cy="637.1" r="1.45" fill="#FF0000"/>
<circle cx="588.2" cy="636.1" r="1.45" fill="#FF0000"/>
<circle cx="606.5" cy="633.9" r="1.45" fill="#0000CD"/>
<circle cx="613.3" cy="636.1" r="1.45" fill="#FF0000"/>
<circle cx="639.3" cy="643.9" r="1.45" fill="#FF0000"/>
<circle cx="609.2" cy="647.9" r="1.45" fill="#0000CD"/>
<circle cx="609.2" cy="650.1" r="1.45" fill="#FF0000"/>
<circle cx="619.0" cy="650.1" r="1.45" fill="#0000CD"/>
<circle cx="576.7" cy="649.9" r="1.45" fill="#0000CD"/>
<circle cx="574.7" cy="649.9" r="1.45" fill="#FF0000"/>
<circle cx="575.7" cy="654.9" r="1.45" fill="#FF0000"/>
<circle cx="522.2" cy="654.9" r="1.45" fill="#0000CD"/>
<circle cx="540.2" cy="656.6" r="1.45" fill="#0000CD"/>
<circle cx="554.7" cy="656.6" r="1.45" fill="#FF0000"/>
<circle cx="559.4" cy="654.9" r="1.45" fill="#FF0000"/>
<circle cx="636.5" cy="654.9" r="1.45" fill="#0000CD"/>
<circle cx="648.0" cy="656.1" r="1.45" fill="#FF0000"/>
<circle cx="571.0" cy="662.4" r="1.45" fill="#FF0000"/>
<circle cx="578.7" cy="662.4" r="1.45" fill="#0000CD"/>
<circle cx="648.0" cy="664.4" r="1.45" fill="#FF0000"/>
<circle cx="655.8" cy="665.4" r="1.45" fill="#0000CD"/>
<circle cx="726.9" cy="655.4" r="1.45" fill="#FF0000"/>
<circle cx="725.9" cy="659.9" r="1.45" fill="#FF0000"/>
<circle cx="760.4" cy="659.9" r="1.45" fill="#FF0000"/>
<circle cx="767.4" cy="665.4" r="1.45" fill="#FF0000"/>
<circle cx="581.7" cy="667.5" r="1.45" fill="#FF0000"/>
<circle cx="585.2" cy="674.3" r="1.45" fill="#FF0000"/>
<circle cx="685.3" cy="668.8" r="1.45" fill="#FF0000"/>
<circle cx="666.1" cy="676.0" r="1.45" fill="#FF0000"/>
<circle cx="708.3" cy="677.3" r="1.45" fill="#FF0000"/>
<circle cx="631.5" cy="680.0" r="1.45" fill="#FF0000"/>
<circle cx="559.4" cy="676.8" r="1.45" fill="#0000CD"/>
<circle cx="557.4" cy="677.8" r="1.45" fill="#FF0000"/>
<circle cx="582.5" cy="680.0" r="1.45" fill="#0000CD"/>
<circle cx="539.2" cy="685.6" r="1.45" fill="#FF0000"/>
<circle cx="547.9" cy="683.8" r="1.45" fill="#FF0000"/>
<circle cx="547.9" cy="686.8" r="1.45" fill="#FF0000"/>
<circle cx="580.5" cy="689.1" r="1.45" fill="#FF0000"/>
<circle cx="563.2" cy="691.1" r="1.45" fill="#0000CD"/>
<circle cx="548.9" cy="694.8" r="1.45" fill="#FF0000"/>
<circle cx="591.2" cy="697.8" r="1.45" fill="#0000CD"/>
<circle cx="759.4" cy="670.5" r="1.45" fill="#FF0000"/>
<circle cx="859.5" cy="95.0" r="1.45" fill="#87CEFA"/>
<circle cx="791.9" cy="109.0" r="1.45" fill="#FFA500"/>
<circle cx="831.7" cy="111.5" r="1.45" fill="#FFA500"/>
<circle cx="862.5" cy="120.5" r="1.45" fill="#FFA500"/>
<circle cx="951.8" cy="118.5" r="1.45" fill="#FFA500"/>
<circle cx="769.9" cy="130.5" r="1.45" fill="#FFA500"/>
<circle cx="906.3" cy="130.0" r="1.45" fill="#FFA500"/>
<circle cx="918.8" cy="130.0" r="1.45" fill="#FFA500"/>
<circle cx="777.7" cy="167.5" r="1.45" fill="#FFA500"/>
<circle cx="893.0" cy="173.8" r="1.45" fill="#FFA500"/>
<circle cx="958.1" cy="173.8" r="1.45" fill="#FFA500"/>
<circle cx="963.3" cy="197.1" r="1.45" fill="#FFA500"/>
<circle cx="838.2" cy="230.6" r="1.45" fill="#0000CD"/>
<circle cx="897.8" cy="257.9" r="1.45" fill="#FFA500"/>
<circle cx="816.2" cy="268.4" r="1.45" fill="#87CEFA"/>
<circle cx="949.6" cy="275.4" r="1.45" fill="#87CEFA"/>
<circle cx="778.7" cy="464.1" r="1.45" fill="#FF0000"/>
<circle cx="931.3" cy="459.6" r="1.45" fill="#0000CD"/>
<circle cx="889.3" cy="486.5" r="1.45" fill="#87CEFA"/>
<circle cx="958.1" cy="498.2" r="1.45" fill="#FF0000"/>
<circle cx="908.3" cy="521.0" r="1.45" fill="#0000CD"/>
<circle cx="925.6" cy="528.0" r="1.45" fill="#FF0000"/>
<circle cx="864.2" cy="604.8" r="1.45" fill="#FF0000"/>
<circle cx="889.3" cy="608.3" r="1.45" fill="#87CEFA"/>
<circle cx="863.2" cy="624.1" r="1.45" fill="#FF0000"/>
<circle cx="775.9" cy="631.4" r="1.45" fill="#FF0000"/>
<circle cx="866.0" cy="642.6" r="1.45" fill="#FF0000"/>
<circle cx="893.0" cy="646.4" r="1.45" fill="#FF0000"/>
<circle cx="973.1" cy="660.6" r="1.45" fill="#FF0000"/>
<circle cx="875.8" cy="663.6" r="1.45" fill="#FF0000"/>
<circle cx="891.0" cy="661.6" r="1.45" fill="#FF0000"/>
<circle cx="896.0" cy="666.4" r="1.45" fill="#FF0000"/>
<circle cx="790.2" cy="674.3" r="1.45" fill="#FF0000"/>
<circle cx="812.4" cy="672.5" r="1.45" fill="#FF0000"/>
<circle cx="815.4" cy="672.5" r="1.45" fill="#FF0000"/>
<circle cx="822.2" cy="672.0" r="1.45" fill="#FF0000"/>
<circle cx="771.9" cy="679.3" r="1.45" fill="#FF0000"/>
<circle cx="776.7" cy="689.3" r="1.45" fill="#FF0000"/>
<circle cx="799.9" cy="685.6" r="1.45" fill="#FF0000"/>
<circle cx="798.7" cy="688.3" r="1.45" fill="#FF0000"/>
<circle cx="863.2" cy="687.3" r="1.45" fill="#FF0000"/>
<circle cx="878.5" cy="688.6" r="1.45" fill="#FF0000"/>
<circle cx="886.3" cy="685.6" r="1.45" fill="#FF0000"/>
</g>
<g stroke="#000" stroke-width="1">
<circle cx="464.4" cy="196.3" r="11.4" fill="#FFA500"/>
<circle cx="412.0" cy="324.8" r="11.4" fill="#87CEFA"/>
<circle cx="386.1" cy="503.9" r="11.4" fill="#0000CD"/>
<circle cx="493.3" cy="610.4" r="11.4" fill="#FF0000"/>
</g>
<text class="t" x="512.2" y="25.8" font-size="25.35" text-anchor="middle">Irfan, Gallifuoco, Azizi, &amp; D. Lambert Passes</text>
<text class="t" x="512" y="58.1" font-size="21.68" text-anchor="middle">AFC Cup</text>
<text class="t" x="32" y="755.8" font-size="18.07">Data from Opta</text>
<text class="t" x="512" y="755.8" font-size="18.07" text-anchor="middle">Direction of Attack ----&gt;</text>
<text class="t" x="791.5" y="755.8" font-size="18.07">Created</text>
<text class="t" x="898" y="755.8" font-size="18.07">@BeGriffis</text>
<text class="t" x="512" y="724.6" font-size="11.78" text-anchor="middle">Polygons denote points that are within 1 standard deviation of the mean</text>
<rect x="11" y="656" width="136" height="73" rx="2.5" fill="#fbf9f4" fill-opacity="0.8" stroke="#4A2E19" stroke-opacity="0.7" stroke-width="0.9"/>
<rect x="14.8" y="663.20" width="45.5" height="6.8" fill="#87CEFA" fill-opacity="0.3" stroke="#555" stroke-opacity="0.45" stroke-width="0.8"/>
<text x="67.5" y="670.00" font-size="13.5" fill="#000">Irfan</text>
<rect x="14.8" y="680.75" width="45.5" height="6.8" fill="#0000CD" fill-opacity="0.3" stroke="#555" stroke-opacity="0.45" stroke-width="0.8"/>
<text x="67.5" y="687.55" font-size="13.5" fill="#000">Gallifuoco</text>
<rect x="14.8" y="698.30" width="45.5" height="6.8" fill="#FF0000" fill-opacity="0.3" stroke="#555" stroke-opacity="0.45" stroke-width="0.8"/>
<text x="67.5" y="705.10" font-size="13.5" fill="#000">Azizi</text>
<rect x="14.8" y="715.85" width="45.5" height="6.8" fill="#FFA500" fill-opacity="0.3" stroke="#555" stroke-opacity="0.45" stroke-width="0.8"/>
<text x="67.5" y="722.65" font-size="13.5" fill="#000">D. Lambert</text>
<!-- Kuala Lumpur City FC crest -->
<defs>
<clipPath id="kin"><path d="M46 40 H84.2 V51 C84.2 62 76 72.5 65.1 79.4 C54.2 72.5 46 62 46 51 Z"/></clipPath>
<clipPath id="kball"><circle cx="65.1" cy="70" r="4.2"/></clipPath>
<linearGradient id="ring" x1="0" y1="0" x2="1" y2="1"><stop offset="0" stop-color="#8f8f8f"/><stop offset="0.5" stop-color="#c9c9c9"/><stop offset="1" stop-color="#9d9d9d"/></linearGradient>
<linearGradient id="gy" x1="0" y1="0" x2="0" y2="1"><stop offset="0" stop-color="#f9c61a"/><stop offset="1" stop-color="#ee8b1e"/></linearGradient>
<linearGradient id="gg" x1="0" y1="0" x2="0" y2="1"><stop offset="0" stop-color="#4bb648"/><stop offset="1" stop-color="#15853b"/></linearGradient>
<linearGradient id="gb" x1="0" y1="0" x2="0" y2="1"><stop offset="0" stop-color="#2f7fd3"/><stop offset="1" stop-color="#1c3aa6"/></linearGradient>
<linearGradient id="gr" x1="1" y1="0" x2="0" y2="1"><stop offset="0" stop-color="#ec1c2d"/><stop offset="1" stop-color="#5c0f1e"/></linearGradient>
<linearGradient id="gl" x1="1" y1="0" x2="0" y2="1"><stop offset="0" stop-color="#58b4ee"/><stop offset="1" stop-color="#1f62c4"/></linearGradient>
</defs>
<g id="klcity">
<path d="M53.3 11.9 L57.6 9.5 L61.6 7.4 Q66 6.5 70.4 6.5 L74.3 7.5 Q77.4 13 77.1 19.6 Q76.9 24 75.9 27.3 H56.8 L56.2 24 L57.4 21.5 L57.6 18.9 L59.5 18 L61.6 18.3 L62.7 15.8 L60.8 14.6 L57.5 15 L54.6 16.4 L53.9 14.6 Z" fill="#F2A71B" stroke="#2a1a05" stroke-width="0.8" stroke-linejoin="round"/>
<g stroke="#2a1a05" fill="none" stroke-linecap="round">
<path d="M63.2 10.6 L65.4 16" stroke-width="1"/><path d="M66.2 9.4 L68.6 17.2" stroke-width="1.1"/><path d="M69.4 9.2 L71.3 17.2" stroke-width="1.1"/><path d="M72.5 9.2 L73.7 16.8" stroke-width="1.1"/>
<path d="M75 11 Q76.6 18 75.9 26" stroke-width="1.5"/>
<path d="M67.9 22.3 L72.6 20.4" stroke-width="0.9"/><path d="M70.2 25 L74.9 22.3" stroke-width="0.9"/><path d="M72 26.6 L75 24.8" stroke-width="0.8"/><path d="M62.4 20.4 L65.5 19.2" stroke-width="0.9"/>
<path d="M62 7.6 L73.5 7.6" stroke-width="1"/>
<path d="M63.5 13.8 L64.8 18.6" stroke-width="0.8"/><path d="M66 18.5 L69.5 18.8" stroke-width="0.7"/>
<path d="M54 14.9 L56.4 15.2" stroke-width="1.5"/>
<path d="M57.9 19.4 L58.9 22.4" stroke-width="1.1"/><path d="M56.6 23.6 L58.8 22.8" stroke-width="0.8"/>
</g>
<path d="M42.4 27.4 H88 V50 C88 64 78 76 65.2 83.6 C52.4 76 42.4 64 42.4 50 Z" fill="#ED1C24" stroke="#000" stroke-width="1"/>
<g clip-path="url(#kin)">
<polyline points="35.1,70.6 65.1,52.6 95.1,70.6" fill="none" stroke="#fff" stroke-width="14.7"/>
<polyline points="35.1,70.6 65.1,52.6 95.1,70.6" fill="none" stroke="#2E3192" stroke-width="5.2"/>
<polyline points="35.1,64.5 65.1,46.5 95.1,64.5" fill="none" stroke="#ED1C24" stroke-width="1.3"/>
<polyline points="35.1,76.4 65.1,58.4 95.1,76.4" fill="none" stroke="#ED1C24" stroke-width="1.3"/>
<path d="M65.1 61.2 L95.1 79.2 V90 H35.1 V79.2 Z" fill="#939598"/>
<g clip-path="url(#kball)"><rect x="60" y="65" width="11" height="10" fill="#FCE51B"/><path d="M64.6 65 C62.6 68 62.6 72 64.6 75 H70 V65 Z" fill="#2E3192"/><path d="M67.2 65 C65.6 68.5 66.6 71.5 65.6 75 H70 V65 Z" fill="#ED1C24"/></g>
</g>
<path d="M46 40 H84.2 V51 C84.2 62 76 72.5 65.1 79.4 C54.2 72.5 46 62 46 51 Z" fill="none" stroke="#fff" stroke-width="1.15"/>
<text x="65.2" y="33.9" font-size="3.1" font-weight="bold" fill="#fff" text-anchor="middle" textLength="38.4" lengthAdjust="spacingAndGlyphs" font-family="'Liberation Sans','DejaVu Sans',sans-serif">KUALA LUMPUR CITY</text>
<text x="65.2" y="37.3" font-size="2.3" fill="#fff" fill-opacity="0.75" text-anchor="middle" textLength="38" lengthAdjust="spacing" font-family="'Liberation Sans','DejaVu Sans',sans-serif">FOOTBALL CLUB</text>
</g>
<!-- AFC Cup logo -->
<g id="afccup">
<circle cx="958" cy="27.9" r="20.5" fill="none" stroke="url(#ring)" stroke-width="3"/>
<path d="M940.3 10.3 L942.2 12.2 L945.6 12 L945 14 Q941.2 23 946.7 33.7 Q950.5 40 958.6 43.8 Q944 40.5 938.6 29 Q935.5 21 937 15.5 Q938.3 12 940.3 10.3 Z" fill="url(#gg)"/>
<path d="M953.6 7.4 L954.6 9.8 L956.3 11.8 Q950.5 20.9 953.1 31.4 Q955 38.5 958.9 43.6 Q950 38 946.4 27.5 Q944.4 19 948.3 12.5 Q950.6 9.3 953.6 7.4 Z" fill="url(#gy)"/>
<path d="M964.8 10.3 L965.2 12.6 L966.8 14.4 Q960.4 21.5 958.9 31 Q958.4 38 959.3 43.4 Q954.2 35 953.6 25.5 Q954.4 18.3 959 13.6 Q961.8 11.4 964.8 10.3 Z" fill="url(#gb)"/>
<path d="M974 16.3 L973.6 18.8 L974.7 20.9 Q966 23.5 962.5 31 Q960.6 36 960.2 41 Q958.6 34 961 27 Q964 20.5 969 17.8 Q971.5 16.6 974 16.3 Z" fill="url(#gr)"/>
<path d="M978 23.2 L977.2 25.6 L977.6 27.9 Q969.5 30 965.5 36 Q963.5 39 962 42 Q961.6 37 964.7 31.4 Q968.5 26.3 974 24.2 Q976 23.5 978 23.2 Z" fill="url(#gl)"/>
<text x="958" y="66.8" font-size="18.4" font-weight="bold" fill="#231F20" stroke="#231F20" stroke-width="0.5" text-anchor="middle" textLength="38.6" lengthAdjust="spacingAndGlyphs">AFC</text>
<text x="957.5" y="84.3" font-size="18.4" font-weight="bold" fill="#231F20" stroke="#231F20" stroke-width="0.5" text-anchor="middle" textLength="38.6" lengthAdjust="spacingAndGlyphs">CUP</text>
<text x="978.8" y="73" font-size="2.6" font-weight="bold" fill="#231F20">TM</text>
</g>
<!-- twitter bird -->
<g id="tw" transform="translate(865.2,738.9) scale(1.12)">
<path fill="#1D9BF0" d="M23.953 4.57a10 10 0 01-2.825.775 4.958 4.958 0 002.163-2.723c-.951.555-2.005.959-3.127 1.184a4.92 4.92 0 00-8.384 4.482C7.69 8.095 4.067 6.13 1.64 3.162a4.822 4.822 0 00-.666 2.475c0 1.71.87 3.213 2.188 4.096a4.904 4.904 0 01-2.228-.616v.06a4.923 4.923 0 003.946 4.827 4.996 4.996 0 01-2.212.085 4.936 4.936 0 004.604 3.417 9.867 9.867 0 01-6.102 2.105c-.39 0-.779-.023-1.17-.067a13.995 13.995 0 007.557 2.209c9.053 0 13.998-7.496 13.998-13.985 0-.21 0-.42-.015-.63A9.935 9.935 0 0024 4.59z"/>
</g>

</svg></body></html>
